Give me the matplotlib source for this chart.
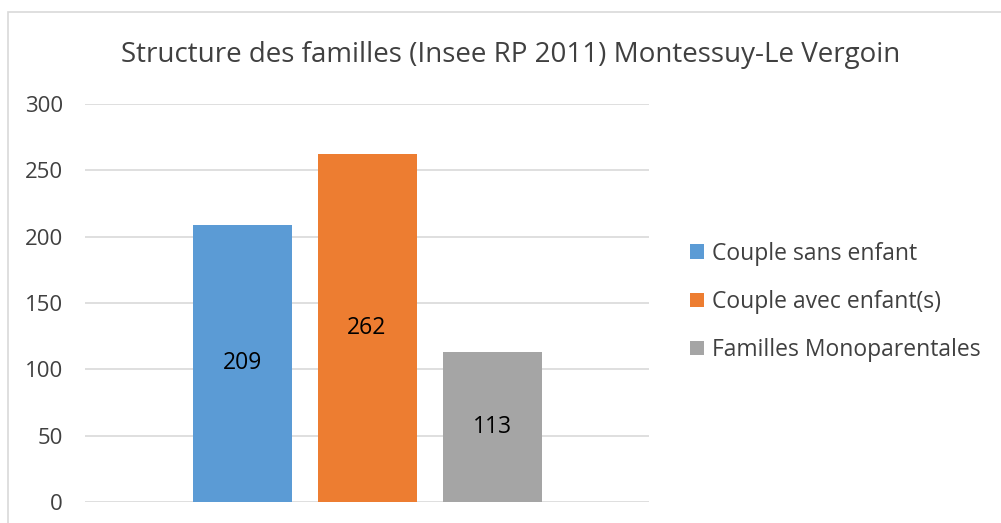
import matplotlib.pyplot as plt
from matplotlib.patches import Rectangle

title = "Structure des familles (Insee RP 2011) Montessuy-Le Vergoin"
series = ["Couple sans enfant", "Couple avec enfant(s)", "Familles Monoparentales"]
values = [209, 262, 113]
colors = ["#5b9bd5", "#ed7d31", "#a5a5a5"]
yticks = [0, 50, 100, 150, 200, 250, 300]

plt.rcParams["font.family"] = ["Open Sans", "DejaVu Sans"]

W, H = 1001, 523
fig = plt.figure(figsize=(W / 100, H / 100), dpi=100)
fig.patches.append(Rectangle((8 / W, -0.1), 1.2, 1 - 12 / H + 0.1, transform=fig.transFigure,
                             fill=False, edgecolor="#d9d9d9", linewidth=1.2))

ax = fig.add_axes([85 / W, 1 - 502 / H, (649 - 85) / W, (502 - 104) / H])
positions = [-1, 0, 1]
handles = []
for pos, val, col, name in zip(positions, values, colors, series):
    bars = ax.bar(pos, val, width=0.792, color=col, label=name, zorder=2)
    ax.bar_label(bars, labels=[str(val)], label_type="center", fontsize=16.5, color="black")
    handles.append(bars)

ax.set_xlim(-2.256, 2.256)
ax.set_ylim(0, 300)
ax.set_yticks(yticks)
ax.set_xticks([])
ax.tick_params(axis="y", length=0, pad=16, labelsize=16, labelcolor="#404040")
ax.grid(axis="y", color="#d9d9d9", linewidth=1.2, zorder=0)
for spine in ax.spines.values():
    spine.set_visible(False)

fig.text(511 / W, 1 - 55 / H, title, ha="center", va="center", fontsize=20, color="#404040")

fig.legend(handles=handles, labels=series, loc="center left",
           bbox_to_anchor=(669 / W, 1 - 302 / H), frameon=False, fontsize=16.5,
           labelcolor="#404040", handlelength=0.62, handleheight=0.62, handletextpad=0.35,
           labelspacing=1.05)

fig.savefig("out.png", dpi=100)
